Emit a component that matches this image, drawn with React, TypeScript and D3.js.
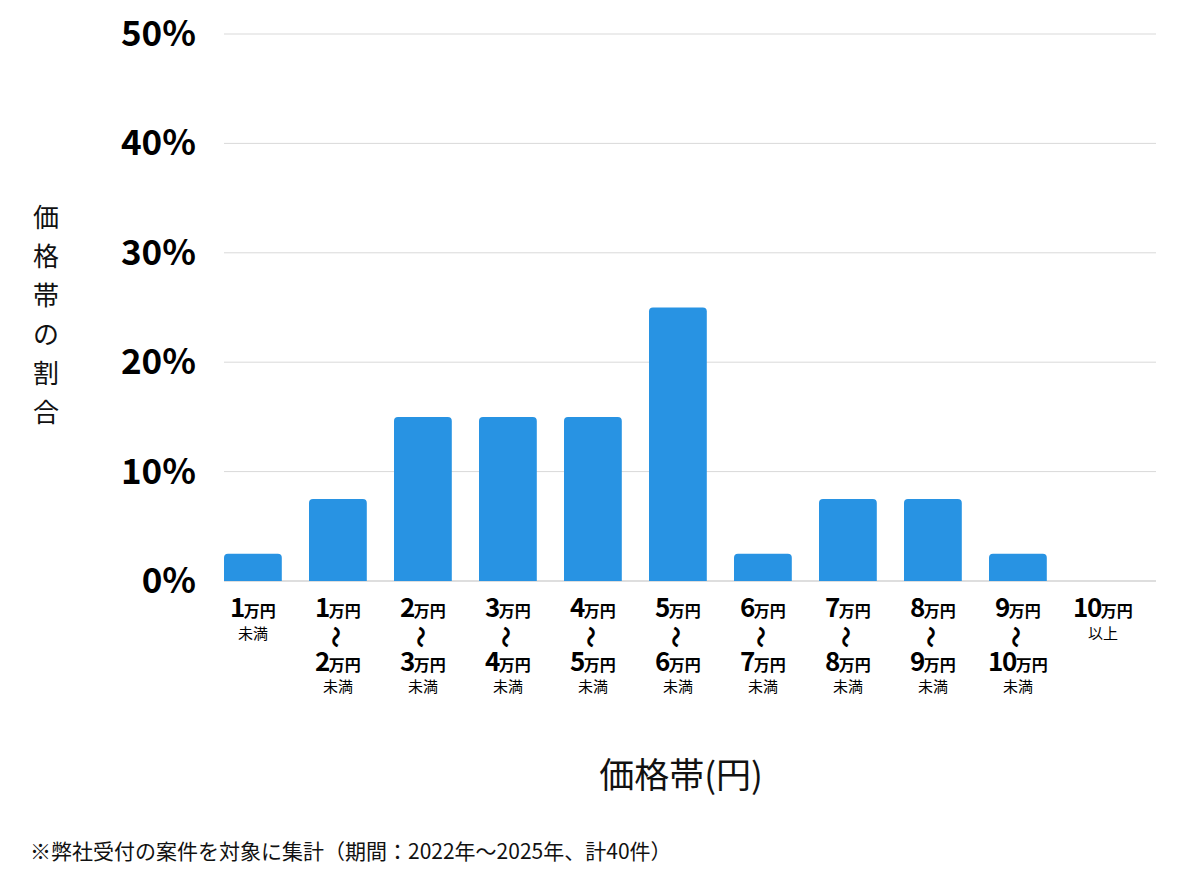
import React from "react";
import * as d3 from "d3";

// Price bands (lower / upper bound in 万円) and share of cases in each
const bandFrom: (number | null)[] = [null, 1, 2, 3, 4, 5, 6, 7, 8, 9, 10];
const bandTo: (number | null)[] = [1, 2, 3, 4, 5, 6, 7, 8, 9, 10, null];
const shares: number[] = [2.5, 7.5, 15, 15, 15, 25, 2.5, 7.5, 7.5, 2.5, 0];
const yTicks: number[] = [0, 10, 20, 30, 40, 50];

const yTitle = "価格帯の割合";
const xTitle = "価格帯(円)";
const footnote = "※弊社受付の案件を対象に集計（期間：2022年〜2025年、計40件）";

const FONT = "'Noto Sans CJK JP', 'Noto Sans', sans-serif";
const BAR = "#2893e3";

export default function App() {
  const width = 1200;
  const height = 874;
  const left = 224;
  const right = 1156;
  const top = 34;
  const bottom = 581;
  const step = 85;
  const pad = 0.32;

  const idx = shares.map((_, i) => i);
  const x = d3
    .scaleBand<number>()
    .domain(idx)
    .range([left, left + step * (idx.length - pad)])
    .paddingInner(pad)
    .paddingOuter(0)
    .align(0);
  const y = d3.scaleLinear().domain([0, 50]).range([bottom, top]);

  const r = 4;
  const barPath = (i: number) => {
    const x0 = x(i)!;
    const w = x.bandwidth();
    const y0 = y(shares[i]);
    const h = bottom - y0;
    if (h <= 0) return "";
    const rr = Math.min(r, h);
    return `M${x0},${bottom}V${y0 + rr}Q${x0},${y0} ${x0 + rr},${y0}H${x0 + w - rr}Q${x0 + w},${y0} ${x0 + w},${y0 + rr}V${bottom}Z`;
  };

  const amount = (v: number, cx: number, baseline: number) => (
    <text x={cx} y={baseline} textAnchor="middle" fontFamily={FONT} fontWeight={700} fill="#000">
      <tspan fontSize={26} letterSpacing={-1.5}>{v}</tspan>
      <tspan fontSize={16}>万円</tspan>
    </text>
  );
  const note = (s: string, cx: number, baseline: number) => (
    <text x={cx} y={baseline} textAnchor="middle" fontFamily={FONT} fontSize={15} fill="#000">
      {s}
    </text>
  );

  return (
    <svg width={width} height={height} style={{ position: "absolute", left: 0, top: 0, background: "#fff" }}>
      {/* grid */}
      {yTicks.map((t) => (
        <line key={t} x1={left} x2={right} y1={y(t)} y2={y(t)} stroke={t === 0 ? "#bdbdbd" : "#d9d9d9"} strokeWidth={1} />
      ))}
      {/* y tick labels */}
      {yTicks.map((t) => (
        <text key={"l" + t} x={196} y={y(t) + 12} textAnchor="end" fontFamily={FONT} fontWeight={700} fontSize={35} fill="#000">
          {t}%
        </text>
      ))}
      {/* bars */}
      {idx.map((i) => (
        <path key={"b" + i} d={barPath(i)} fill={BAR} />
      ))}
      {/* x tick labels */}
      {idx.map((i) => {
        const cx = x(i)! + x.bandwidth() / 2;
        const from = bandFrom[i];
        const to = bandTo[i];
        if (from === null) {
          return (
            <g key={"t" + i}>
              {amount(to as number, cx, 617)}
              {note("未満", cx, 639)}
            </g>
          );
        }
        if (to === null) {
          return (
            <g key={"t" + i}>
              {amount(from, cx, 617)}
              {note("以上", cx, 639)}
            </g>
          );
        }
        return (
          <g key={"t" + i}>
            {amount(from, cx, 617)}
            <text
              transform={`translate(${cx},637) rotate(90)`}
              textAnchor="middle"
              dominantBaseline="central"
              fontFamily={FONT}
              fontWeight={700}
              fontSize={22}
              fill="#000"
            >
              〜
            </text>
            {amount(to, cx, 671)}
            {note("未満", cx, 692)}
          </g>
        );
      })}
      {/* y title, stacked vertically */}
      {Array.from(yTitle).map((ch, k) => (
        <text key={"y" + k} x={46} y={227 + k * 39} textAnchor="middle" fontFamily={FONT} fontSize={26} fill="#111">
          {ch}
        </text>
      ))}
      {/* x title */}
      <text x={681} y={788} textAnchor="middle" fontFamily={FONT} fontSize={35} fill="#111">
        {xTitle}
      </text>
      {/* footnote */}
      <text x={30} y={859} fontFamily={FONT} fontSize={21} fill="#111">
        {footnote}
      </text>
    </svg>
  );
}
